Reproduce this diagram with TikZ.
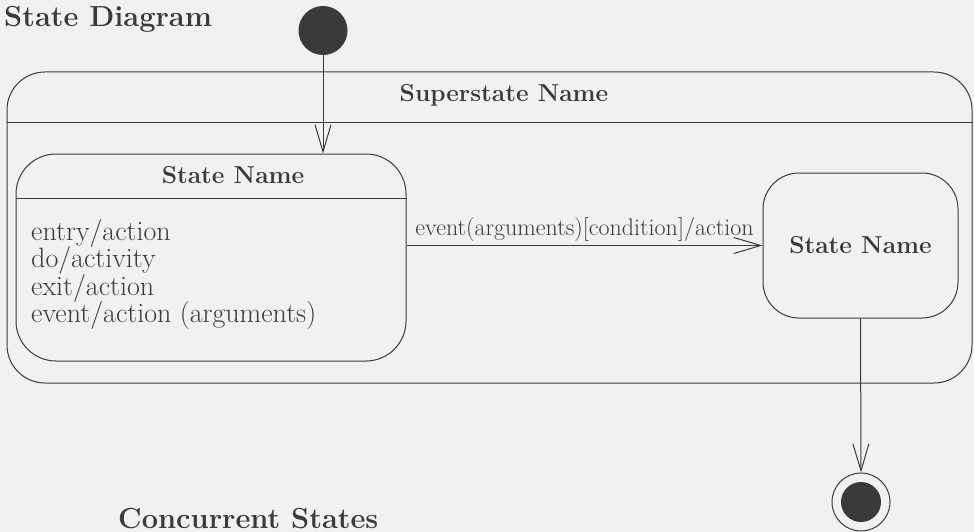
\documentclass[tikz,border=0pt]{standalone}
\usepackage{fontspec}
\usepackage{tikz}
\usetikzlibrary{arrows.meta, positioning, calc}
\definecolor{inkgray}{RGB}{58,58,58}
\definecolor{papergray}{RGB}{241,241,239}

\begin{document}
\begin{tikzpicture}[
    x=1pt, y=-1pt,
    title/.style={inner sep=0pt, anchor=base west, text=inkgray, font=\fontsize{29}{34}\selectfont\bfseries},
    statename/.style={inner sep=0pt, anchor=base, text=inkgray, font=\fontsize{24.5}{28}\selectfont\bfseries},
    bodytext/.style={inner sep=0pt, anchor=base west, text=inkgray, font=\fontsize{28}{32}\selectfont},
    superbox/.style={rectangle, draw=inkgray, line width=1pt, rounded corners=38pt, minimum width=965pt, minimum height=311pt},
    statebox/.style={rectangle, draw=inkgray, line width=1pt, rounded corners=36pt},
    startdot/.style={circle, fill=inkgray, minimum size=49pt, inner sep=0pt},
    endring/.style={circle, draw=inkgray, line width=1pt, minimum size=58pt, inner sep=0pt},
    enddot/.style={circle, fill=inkgray, minimum size=40pt, inner sep=0pt},
    trans/.style={-{Straight Barb[length=27pt, width=16pt]}, line width=1pt, draw=inkgray},
]

% Paper
\fill[papergray] (0,0) rectangle (974,532);

% Headings
\node[title] (headdiag) at (4,27) {State Diagram};
\node[title] (headconc) at (118,528) {Concurrent States};

% Superstate
\node[superbox] (super) at (489.5,227.5) {};
\node[statename] (supername) at (504,102) {Superstate Name};
\draw[inkgray, line width=1pt] (super.west |- 0,123) -- (super.east |- 0,123);

% Composite state with internal actions
\node[statebox, minimum width=390pt, minimum height=207pt, rounded corners=40pt] (inner) at (211,257.5) {};
\draw[inkgray, line width=1pt] (inner.west |- 0,198) -- (inner.east |- 0,198);
\node[statename] (innername) at (233,183) {State Name};
\node[bodytext] (entry) at (31,240) {entry/action};
\node[bodytext] (doact) at (31,267.5) {do/activity};
\node[bodytext] (exit) at (31,295) {exit/action};
\node[bodytext] (evact) at (31,322) {event/action (arguments)};

% Simple state
\node[statebox, minimum width=195pt, minimum height=145pt, font=\fontsize{24.5}{28}\selectfont\bfseries, text=inkgray] (target) at (860.5,245.5) {State Name};

% Pseudo states
\node[startdot] (init) at (323,30.5) {};
\node[endring] (final) at (861,502) {};
\node[enddot] (finaldot) at (final.center) {};

% Transitions
\draw[trans] (init.south) -- (init.south |- inner.north);
\draw[trans] (inner.east |- target.west) -- node[above=4pt, inner sep=0pt, text=inkgray, font=\fontsize{24}{28}\selectfont] (translabel) {event(arguments)[condition]/action} (target.west);
\draw[trans] (target.south) -- (final.north);

\end{tikzpicture}
\end{document}
